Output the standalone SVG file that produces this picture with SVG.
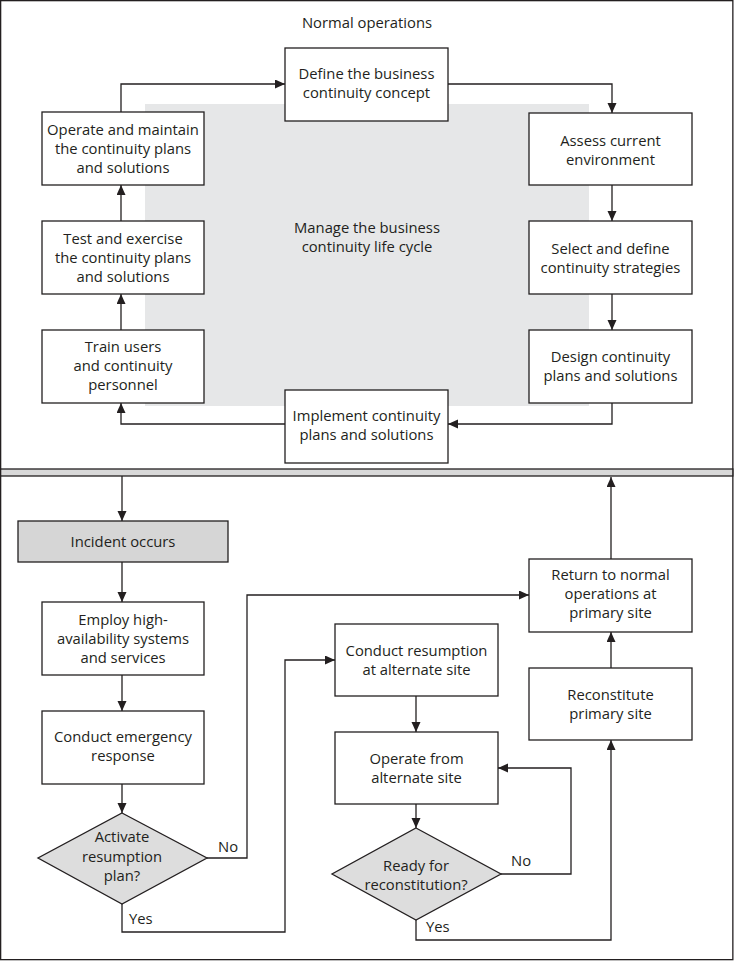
<svg xmlns="http://www.w3.org/2000/svg" width="734" height="961" viewBox="0 0 734 961">
<defs>
<marker id="ah" markerUnits="userSpaceOnUse" markerWidth="11" markerHeight="10" refX="10" refY="4.5" orient="auto"><path d="M0,0 L10,4.5 L0,9 z" fill="#231f20"/></marker>
<style>
.box{fill:#fff;stroke:#231f20;stroke-width:1.3}
.gbox{fill:#d6d6d6;stroke:#231f20;stroke-width:1.3}
.dia{fill:#dddddd;stroke:#231f20;stroke-width:1.3}
.c{fill:none;stroke:#231f20;stroke-width:1.3;marker-end:url(#ah)}
.l{fill:none;stroke:#231f20;stroke-width:1.3}
text{font-family:"Open Sans","Noto Sans",sans-serif;font-size:14.8px;fill:#231f20;text-anchor:middle}
.s{text-anchor:start}
</style>
</defs>
<rect x="0.65" y="0.65" width="732.2" height="959" fill="#fff" stroke="#231f20" stroke-width="1.3"/>
<rect x="0.65" y="469" width="732.2" height="7" fill="#d9d9d9" stroke="#231f20" stroke-width="1.3"/>
<rect id="lifecycle-bg" x="145" y="104" width="444" height="302" fill="#e6e7e8"/>
<text x="367" y="28">Normal operations</text>
<text x="367" y="233">Manage the business</text>
<text x="367" y="252">continuity life cycle</text>

<g id="connectors">
<path class="c" d="M121,112 V84 H285"/>
<path class="c" d="M448,84 H612 V113"/>
<path class="c" d="M612,185 V221"/>
<path class="c" d="M612,294 V330"/>
<path class="c" d="M612,403 V424 H448"/>
<path class="c" d="M285,424 H121 V403"/>
<path class="c" d="M121,330 V294"/>
<path class="c" d="M121,221 V185"/>
<path class="c" d="M122,476 V521"/>
<path class="c" d="M122,562 V602"/>
<path class="c" d="M122,675 V711"/>
<path class="c" d="M122,784 V813"/>
<path class="c" d="M207,858 H247 V595 H529"/>
<path class="c" d="M122,904 V932 H285 V660 H335"/>
<path class="c" d="M416,696 V732"/>
<path class="c" d="M416,804 V828"/>
<path class="c" d="M501,874 H571 V768 H498"/>
<path class="c" d="M416,920 V940 H611 V740"/>
<path class="c" d="M611,668 V632"/>
<path class="c" d="M611,559 V477"/>
</g>

<g id="define"><rect class="box" x="285" y="48" width="163" height="73"/><text x="366.5" y="79">Define the business</text><text x="366.5" y="98">continuity concept</text></g>
<g id="assess"><rect class="box" x="529" y="113" width="163" height="72"/><text x="610.5" y="146">Assess current</text><text x="610.5" y="165">environment</text></g>
<g id="select"><rect class="box" x="529" y="221" width="163" height="73"/><text x="610.5" y="254">Select and define</text><text x="610.5" y="273">continuity strategies</text></g>
<g id="design"><rect class="box" x="529" y="330" width="163" height="73"/><text x="610.5" y="362">Design continuity</text><text x="610.5" y="381">plans and solutions</text></g>
<g id="implement"><rect class="box" x="285" y="390" width="163" height="73"/><text x="366.5" y="421">Implement continuity</text><text x="366.5" y="440">plans and solutions</text></g>
<g id="train"><rect class="box" x="42" y="330" width="162" height="73"/><text x="123" y="352">Train users</text><text x="123" y="371">and continuity</text><text x="123" y="390">personnel</text></g>
<g id="test"><rect class="box" x="42" y="221" width="162" height="73"/><text x="123" y="244">Test and exercise</text><text x="123" y="263">the continuity plans</text><text x="123" y="282">and solutions</text></g>
<g id="operate"><rect class="box" x="42" y="112" width="162" height="73"/><text x="123" y="135">Operate and maintain</text><text x="123" y="154">the continuity plans</text><text x="123" y="173">and solutions</text></g>

<g id="incident"><rect class="gbox" x="18" y="521" width="210" height="41"/><text x="123" y="547">Incident occurs</text></g>
<g id="employ"><rect class="box" x="42" y="602" width="162" height="73"/><text x="123" y="625">Employ high-</text><text x="123" y="644">availability systems</text><text x="123" y="663">and services</text></g>
<g id="emergency"><rect class="box" x="42" y="711" width="162" height="73"/><text x="123" y="742">Conduct emergency</text><text x="123" y="761">response</text></g>
<g id="activate"><path class="dia" d="M122,813 L207,858 L122,904 L38,858 z"/><text x="122" y="842">Activate</text><text x="122" y="862">resumption</text><text x="122" y="881">plan?</text></g>
<g id="resumption"><rect class="box" x="335" y="624" width="163" height="72"/><text x="416.5" y="656">Conduct resumption</text><text x="416.5" y="675">at alternate site</text></g>
<g id="operate-alt"><rect class="box" x="335" y="732" width="163" height="72"/><text x="416.5" y="764">Operate from</text><text x="416.5" y="783">alternate site</text></g>
<g id="ready"><path class="dia" d="M416,828 L501,874 L416,920 L332,874 z"/><text x="416" y="871">Ready for</text><text x="416" y="890">reconstitution?</text></g>
<g id="return"><rect class="box" x="529" y="559" width="163" height="73"/><text x="610.5" y="580">Return to normal</text><text x="610.5" y="599">operations at</text><text x="610.5" y="618">primary site</text></g>
<g id="reconstitute"><rect class="box" x="529" y="668" width="163" height="72"/><text x="610.5" y="700">Reconstitute</text><text x="610.5" y="719">primary site</text></g>

<g id="labels">
<text class="s" x="218" y="852">No</text>
<text class="s" x="129" y="924">Yes</text>
<text class="s" x="511" y="866">No</text>
<text class="s" x="426" y="932">Yes</text>
</g>
</svg>
